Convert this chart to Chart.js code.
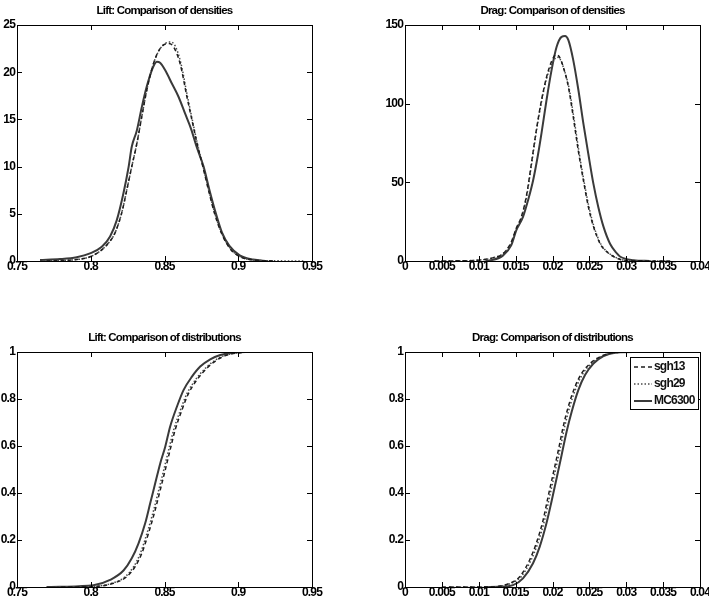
<!DOCTYPE html>
<html>
<head>
<meta charset="utf-8">
<script src="https://cdn.jsdelivr.net/npm/chart.js@4.4.1/dist/chart.umd.min.js"></script>
<style>
  body { margin: 0; background: #fff; width: 709px; height: 610px; position: relative; overflow: hidden; }
  .pane { position: absolute; }
</style>
</head>
<body>
<div class="pane" style="left:0;top:0"><canvas id="liftDens" width="330" height="281"></canvas></div>
<div class="pane" style="left:360px;top:0"><canvas id="dragDens" width="349" height="281"></canvas></div>
<div class="pane" style="left:0;top:327px"><canvas id="liftDist" width="330" height="280"></canvas></div>
<div class="pane" style="left:360px;top:327px"><canvas id="dragDist" width="349" height="280"></canvas></div>
<script>
var seriesNames = ['sgh13', 'sgh29', 'MC6300'];

// Lift: densities
var liftDens13X = [0.770,0.7928,0.8018,0.8109,0.8165,0.821,0.8244,0.8278,0.8312,0.8346,0.838,0.8425,0.847,0.8527,0.8561,0.8606,0.8652,0.8685,0.872,0.876,0.880,0.884,0.889,0.895,0.902,0.912,0.925];
var liftDens13Y = [0,0.2,0.6,1.7,3.0,5.1,7.5,10,12.4,15.3,18.1,20.9,22.5,23.05,22.7,20.9,17.4,15.0,12.5,10,7.4,5,2.8,1.2,0.4,0.08,0];
var liftDens29X = [0.768,0.7928,0.8018,0.8109,0.8165,0.821,0.8244,0.8278,0.8312,0.8346,0.838,0.8425,0.8475,0.854,0.8572,0.8612,0.8656,0.8688,0.8722,0.8762,0.8802,0.8842,0.8892,0.8952,0.9022,0.912,0.925,0.945];
var liftDens29Y = [0,0.2,0.6,1.7,3.0,5.1,7.5,10,12.4,15.3,18.1,20.9,22.6,23.2,22.8,20.9,17.4,15.0,12.5,10,7.4,5,2.8,1.2,0.4,0.08,0.02,0];
var liftDensMCX = [0.7656,0.7792,0.7905,0.7995,0.8075,0.8131,0.8176,0.8222,0.8256,0.8278,0.8312,0.8346,0.838,0.8414,0.8448,0.847,0.8505,0.855,0.8595,0.864,0.868,0.872,0.8765,0.8805,0.8849,0.889,0.894,0.901,0.910,0.920];
var liftDensMCY = [0.1,0.2,0.4,0.8,1.5,2.6,4.3,7.2,9.9,12.1,13.8,16.3,18.5,20.2,21.1,21.0,20.2,18.8,17.4,15.6,14.0,12.0,10.0,7.5,5.0,3.0,1.6,0.6,0.15,0];

// Drag: densities
var dragDens13X = [0.004,0.0085,0.00964,0.0119,0.01327,0.0144,0.0151,0.01577,0.01645,0.01714,0.0178,0.0185,0.0192,0.01986,0.02045,0.0209,0.02145,0.02214,0.0228,0.0235,0.0242,0.02486,0.02555,0.02645,0.02736,0.0292,0.031,0.036];
var dragDens13Y = [0,0.2,0.4,2,4.6,12,21,28,41,62,83,102,117,126.7,131,130,123.5,111,92,70,51,34.5,22,11,5.9,1,0.2,0];
var dragDens29X = [0.004,0.0085,0.00964,0.0119,0.01327,0.0144,0.0151,0.01577,0.01645,0.01714,0.0178,0.0185,0.0192,0.01995,0.0206,0.0210,0.02155,0.02224,0.0229,0.0236,0.0243,0.02496,0.02565,0.02655,0.02746,0.0293,0.0312,0.0355];
var dragDens29Y = [0,0.2,0.4,2,4.6,11.5,20.5,27.5,40,61,82,101,116,125.5,129.5,128.5,122,110,91,69,50,34,21.5,10.8,5.7,1,0.2,0];
var dragDensMCX = [0.0109,0.01145,0.01327,0.0144,0.0151,0.016,0.01668,0.01736,0.01805,0.0185,0.01918,0.01986,0.02055,0.02123,0.0217,0.02214,0.0228,0.0235,0.0242,0.02486,0.02555,0.0262,0.0269,0.0278,0.0287,0.0292,0.031,0.0332];
var dragDensMCY = [0,0.3,3.4,9.9,19.6,28,38.5,51,68,81,102,121,136,142.5,143,140.5,128,109,87,68,49,34.5,22,11,5,2.7,0.5,0];

// Lift: distributions
var liftDist13X = [0.780,0.8018,0.8154,0.8244,0.8301,0.8346,0.8391,0.8437,0.8471,0.8505,0.8538,0.8572,0.8618,0.8663,0.8719,0.8787,0.8855,0.892,0.900,0.910,0.950];
var liftDist13Y = [0,0.002,0.016,0.044,0.087,0.143,0.228,0.328,0.413,0.498,0.583,0.668,0.753,0.824,0.881,0.931,0.966,0.986,0.996,1,1];
var liftDist29X = [0.776,0.8008,0.8144,0.8234,0.8291,0.8336,0.8381,0.8427,0.8461,0.8495,0.8528,0.8562,0.8608,0.8653,0.8709,0.8777,0.8845,0.891,0.899,0.909,0.945];
var liftDist29Y = [0,0.002,0.016,0.044,0.087,0.143,0.228,0.328,0.413,0.498,0.583,0.668,0.753,0.824,0.881,0.931,0.966,0.986,0.996,1,1];
var liftDistMCX = [0.770,0.7792,0.8018,0.8131,0.8222,0.8278,0.8324,0.8369,0.8403,0.8437,0.8471,0.8505,0.8538,0.8584,0.8629,0.8686,0.8742,0.881,0.8878,0.895,0.905,0.930];
var liftDistMCY = [0,0.001,0.007,0.03,0.07,0.122,0.186,0.271,0.356,0.441,0.526,0.597,0.682,0.767,0.838,0.895,0.938,0.969,0.987,0.996,1,1];

// Drag: distributions
var dragDist13X = [0.005,0.0119,0.0142,0.01555,0.0169,0.0178,0.01873,0.0194,0.0201,0.0208,0.02145,0.02214,0.02305,0.02395,0.0251,0.02645,0.02827,0.031,0.036];
var dragDist13Y = [0,0.001,0.016,0.044,0.115,0.186,0.285,0.384,0.483,0.583,0.682,0.767,0.852,0.909,0.951,0.98,0.997,1,1];
var dragDist29X = [0.006,0.0121,0.0144,0.01575,0.0171,0.018,0.01893,0.0196,0.0203,0.021,0.02165,0.02234,0.02325,0.02415,0.0253,0.02665,0.02847,0.031,0.035];
var dragDist29Y = [0,0.001,0.016,0.044,0.115,0.186,0.285,0.384,0.483,0.583,0.682,0.767,0.852,0.909,0.951,0.98,0.997,1,1];
var dragDistMCX = [0.011,0.01282,0.01464,0.016,0.01736,0.01827,0.01918,0.01986,0.02055,0.02123,0.02191,0.0226,0.0235,0.02441,0.02555,0.02691,0.02873,0.031,0.034];
var dragDistMCY = [0,0.001,0.008,0.037,0.101,0.172,0.271,0.363,0.462,0.561,0.661,0.746,0.838,0.902,0.951,0.983,0.998,1,1];

// tick values
var liftTicks = [0.75,0.8,0.85,0.9,0.95];
var dragTicks = [0,0.005,0.01,0.015,0.02,0.025,0.03,0.035,0.04];
var liftDensTicks = [0,5,10,15,20,25];
var dragDensTicks = [0,50,100,150];
var distTicks = [0,0.2,0.4,0.6,0.8,1];

var FONT = '"Liberation Sans Narrow", "Arial Narrow", "Liberation Sans", Arial, sans-serif';
var styles = [
    { borderColor: '#1e1e1e', borderWidth: 1.5, borderDash: [4, 3] },
    { borderColor: '#4a4a4a', borderWidth: 1.5, borderDash: [1.5, 2] },
    { borderColor: '#3a3a3a', borderWidth: 2, borderDash: [] }
];

function pts(xs, ys) {
    return xs.map((x, i) => ({ x: x, y: ys[i] }));
}

// box around the axes with MATLAB style inward ticks
var framePlugin = {
    id: 'frame',
    beforeDraw(chart) {
        chart.ctx.letterSpacing = '-0.8px'; // mimic the narrow font
    },
    afterDatasetsDraw(chart) {
        var ctx = chart.ctx, a = chart.chartArea, sx = chart.scales.x, sy = chart.scales.y;
        ctx.save();
        ctx.strokeStyle = '#000';
        ctx.lineWidth = 1;
        ctx.strokeRect(Math.round(a.left) + 0.5, Math.round(a.top) + 0.5, Math.round(a.width), Math.round(a.height));
        ctx.beginPath();
        sx.ticks.forEach(t => {
            var p = Math.round(sx.getPixelForValue(t.value)) + 0.5;
            ctx.moveTo(p, a.bottom); ctx.lineTo(p, a.bottom - 5);
            ctx.moveTo(p, a.top); ctx.lineTo(p, a.top + 5);
        });
        sy.ticks.forEach(t => {
            var p = Math.round(sy.getPixelForValue(t.value)) + 0.5;
            ctx.moveTo(a.left, p); ctx.lineTo(a.left + 5, p);
            ctx.moveTo(a.right, p); ctx.lineTo(a.right - 5, p);
        });
        ctx.stroke();
        ctx.restore();
    }
};

// legend box in the upper right corner of the axes
var legendPlugin = {
    id: 'boxLegend',
    afterDatasetsDraw(chart) {
        var ctx = chart.ctx, a = chart.chartArea;
        var left = a.right - 70, top = a.top + 5, w = 68, h = 52;
        ctx.save();
        ctx.fillStyle = '#fff';
        ctx.fillRect(left, top, w, h);
        ctx.strokeStyle = '#000';
        ctx.lineWidth = 1;
        ctx.strokeRect(Math.round(left) + 0.5, Math.round(top) + 0.5, w, h);
        ctx.font = 'bold 12px ' + FONT;
        ctx.letterSpacing = '-0.8px';
        ctx.textBaseline = 'middle';
        chart.data.datasets.forEach((ds, i) => {
            var yy = top + 10 + i * 17;
            ctx.strokeStyle = ds.borderColor;
            ctx.lineWidth = ds.borderWidth;
            ctx.setLineDash(ds.borderDash);
            ctx.beginPath();
            ctx.moveTo(left + 4, yy); ctx.lineTo(left + 22, yy);
            ctx.stroke();
            ctx.setLineDash([]);
            ctx.fillStyle = '#111';
            ctx.fillText(ds.label, left + 24, yy);
        });
        ctx.restore();
    }
};

function makeChart(id, title, series, xRange, xTicks, yRange, yTicks, yWidth, padRight, withLegend) {
    var ctx = document.getElementById(id).getContext('2d');
    return new Chart(ctx, {
        type: 'line',
        data: {
            datasets: series.map((s, i) => Object.assign({
                label: seriesNames[i],
                data: pts(s[0], s[1]),
                pointRadius: 0,
                fill: false,
                cubicInterpolationMode: 'monotone'
            }, styles[i]))
        },
        options: {
            responsive: false,
            animation: false,
            layout: { padding: { left: 0, right: padRight, top: 0, bottom: 0 } },
            scales: {
                x: {
                    type: 'linear',
                    min: xRange[0], max: xRange[1],
                    grid: { display: false, drawTicks: false },
                    border: { display: false },
                    afterBuildTicks: s => { s.ticks = xTicks.map(v => ({ value: v })); },
                    afterFit: s => { s.height = 20; s.paddingLeft = 0; s.paddingRight = 0; },
                    ticks: {
                        maxRotation: 0, autoSkip: false, padding: 0, color: '#000',
                        font: { family: FONT, size: 12, weight: 'bold', lineHeight: 1 },
                        callback: v => String(v)
                    }
                },
                y: {
                    min: yRange[0], max: yRange[1],
                    grid: { display: false, drawTicks: false },
                    border: { display: false },
                    afterBuildTicks: s => { s.ticks = yTicks.map(v => ({ value: v })); },
                    afterFit: s => { s.width = yWidth; s.paddingTop = 0; s.paddingBottom = 0; },
                    ticks: {
                        padding: 2, color: '#000',
                        font: { family: FONT, size: 12, weight: 'bold' },
                        callback: v => String(v)
                    }
                }
            },
            plugins: {
                legend: { display: false },
                tooltip: { enabled: false },
                title: {
                    display: true,
                    text: title,
                    fullSize: false,
                    color: '#000',
                    font: { family: FONT, size: 11.5, weight: 'bold', lineHeight: 1.2 },
                    padding: { top: 4, bottom: 7.2 }
                }
            }
        },
        plugins: withLegend ? [framePlugin, legendPlugin] : [framePlugin]
    });
}

makeChart('liftDens', 'Lift: Comparison of densities',
    [[liftDens13X, liftDens13Y], [liftDens29X, liftDens29Y], [liftDensMCX, liftDensMCY]],
    [0.75, 0.95], liftTicks, [0, 25], liftDensTicks, 17, 18, false);

makeChart('dragDens', 'Drag: Comparison of densities',
    [[dragDens13X, dragDens13Y], [dragDens29X, dragDens29Y], [dragDensMCX, dragDensMCY]],
    [0, 0.04], dragTicks, [0, 150], dragDensTicks, 45, 9, false);

makeChart('liftDist', 'Lift: Comparison of distributions',
    [[liftDist13X, liftDist13Y], [liftDist29X, liftDist29Y], [liftDistMCX, liftDistMCY]],
    [0.75, 0.95], liftTicks, [0, 1], distTicks, 17, 18, false);

makeChart('dragDist', 'Drag: Comparison of distributions',
    [[dragDist13X, dragDist13Y], [dragDist29X, dragDist29Y], [dragDistMCX, dragDistMCY]],
    [0, 0.04], dragTicks, [0, 1], distTicks, 45, 9, true);
</script>
</body>
</html>
